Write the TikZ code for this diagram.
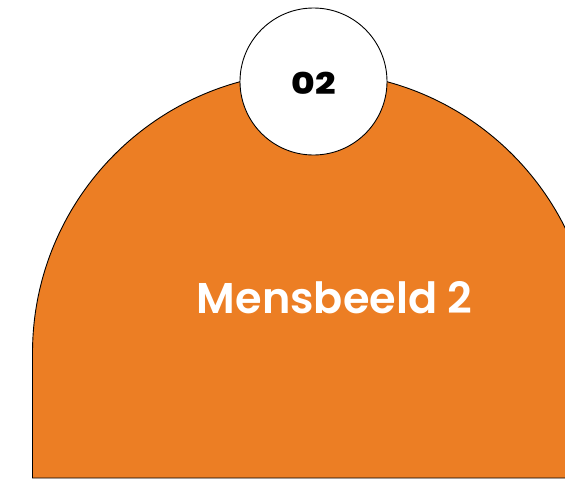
\documentclass[tikz,border=0pt]{standalone}
\usepackage{fontspec}
\setmainfont{Poppins}
\newfontfamily\popsb{Poppins SemiBold}
\newfontfamily\popblk{Poppins ExtraBold}
\definecolor{archorange}{RGB}{236,126,36}
\begin{document}
\begin{tikzpicture}[x=1pt,y=-1pt,
  archstyle/.style={fill=archorange,draw=black,line width=0.9pt},
  badge/.style={circle,fill=white,draw=black,line width=0.9pt,minimum size=147pt,inner sep=0pt},
  titletext/.style={text=white,font=\popsb\fontsize{43}{50}\selectfont,inner sep=0pt,anchor=base},
  numtext/.style={text=black,font=\popblk\fontsize{30}{34}\selectfont,inner sep=0pt}]
\useasboundingbox (0,0) rectangle (565,480);
\begin{scope}
\clip (0,0) rectangle (565,480);
\draw[archstyle] (32.5,478) -- (32.5,353) arc[start angle=180,end angle=0,radius=281pt] -- (594.5,478) -- cycle;
\end{scope}
\node[badge] (badge) at (313.5,81.5) {};
\node[numtext,xscale=1.2] (num) at (313.5,83.5) {02};
\node[titletext] (title) at (334.5,313) {Mensbeeld 2};
\end{tikzpicture}
\end{document}
